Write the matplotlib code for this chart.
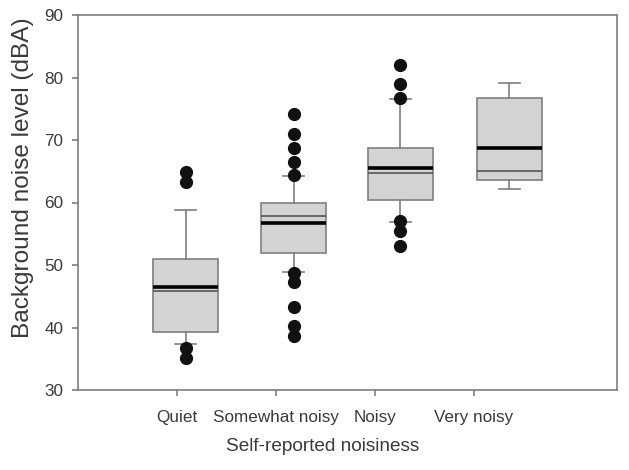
import numpy as np
import matplotlib.pyplot as plt

plt.rcParams['font.family'] = ['Liberation Sans', 'DejaVu Sans']

# noise level categories and box statistics (dBA)
groups = ['Quiet', 'Somewhat noisy', 'Noisy', 'Very noisy']
q1 = [39.3, 52.0, 60.4, 63.6]
q3 = [51.0, 60.0, 68.8, 76.7]
medians = [45.8, 57.9, 64.8, 65.0]
means = [46.5, 56.8, 65.5, 68.7]
whis_lo = [37.3, 48.9, 56.9, 62.2]
whis_hi = [58.8, 64.3, 76.6, 79.2]
outliers = [
    [64.9, 63.3, 36.7, 35.1],
    [74.2, 71.0, 68.8, 66.4, 64.45, 48.7, 47.3, 43.3, 40.2, 38.7],
    [82.0, 79.0, 76.8, 57.0, 55.4, 53.0],
    [],
]

stats = []
for i in range(len(groups)):
    stats.append(dict(label=groups[i], q1=q1[i], q3=q3[i], med=medians[i],
                      mean=means[i], whislo=whis_lo[i], whishi=whis_hi[i],
                      fliers=np.array(outliers[i])))

gray = '#7f7f7f'
txt = '#3a3a3a'

fig = plt.figure(figsize=(6.29, 4.70), dpi=100)
ax = fig.add_axes([78 / 629, 80 / 470, 539 / 629, 375 / 470])

# boxes sit a little to the right of the ticks, as in the original
box_pos = [1.09, 2.18, 3.26, 4.36]
ax.bxp(stats, positions=box_pos, widths=0.66, capwidths=0.21,
       showmeans=True, meanline=True, patch_artist=True, manage_ticks=False,
       boxprops=dict(facecolor='#d3d3d3', edgecolor=gray, linewidth=1.2),
       whiskerprops=dict(color=gray, linewidth=1.2),
       capprops=dict(color=gray, linewidth=1.2),
       medianprops=dict(color='#555555', linewidth=1.2),
       meanprops=dict(color='black', linestyle='-', linewidth=2.6),
       flierprops=dict(marker='o', markerfacecolor='#111111',
                       markeredgecolor='#111111', markersize=8.5))

ax.set_xlim(0, 5.45)
ax.set_ylim(30, 90)
ax.set_xticks([1, 2, 3, 4])
ax.set_xticklabels(groups)
ax.set_yticks(range(30, 91, 10))

for s in ax.spines.values():
    s.set_color(gray)
    s.set_linewidth(1.2)
ax.tick_params(axis='both', direction='out', length=4.5, width=1.2,
               color=gray, labelcolor=txt, labelsize=12.3)
ax.tick_params(axis='x', pad=10)
ax.tick_params(axis='y', pad=6)

ax.set_xlabel('Self-reported noisiness', fontsize=13.7, color=txt)
ax.set_ylabel('Background noise level (dBA)', fontsize=17.6, color=txt)
ax.xaxis.set_label_coords(0.453, -0.128)
ax.yaxis.set_label_coords(-0.082, 0.565)

fig.savefig('out.png', dpi=100)
